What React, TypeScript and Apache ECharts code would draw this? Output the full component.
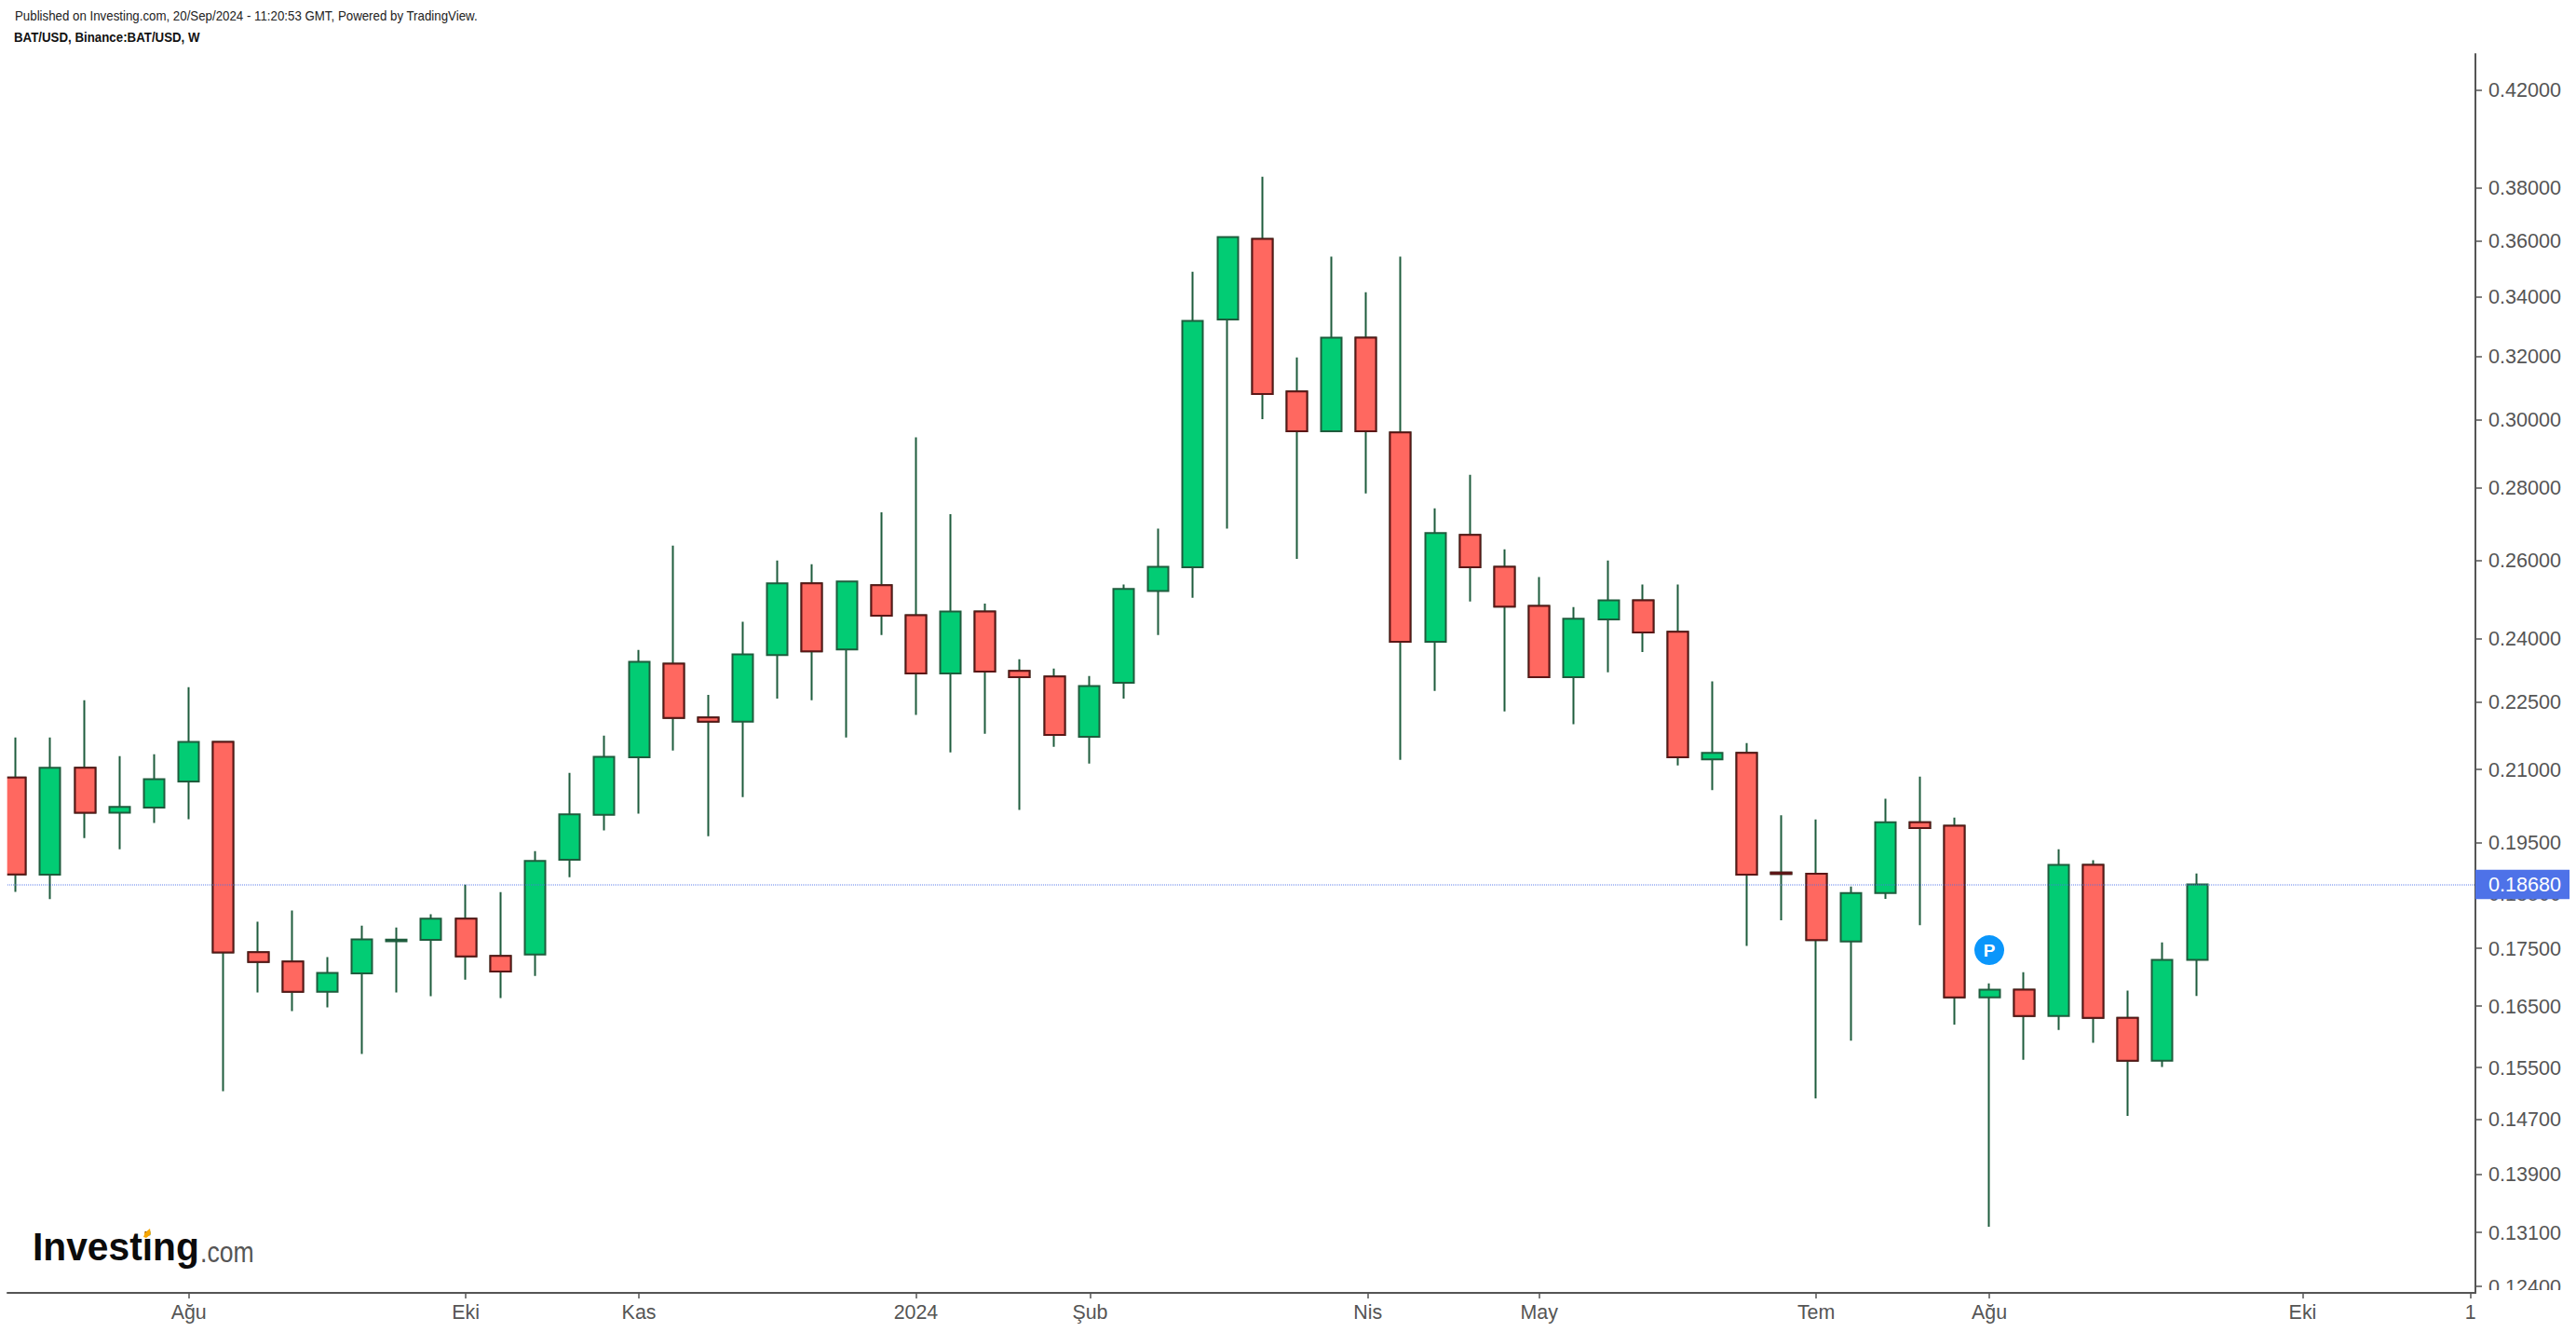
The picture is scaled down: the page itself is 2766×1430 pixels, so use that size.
import React, { useEffect, useRef } from "react";
import * as echarts from "echarts";

const opens = [
  0.20832, 0.18867, 0.21038, 0.20097, 0.20205, 0.20746, 0.21603, 0.17433, 0.17269, 0.16742, 0.1706, 0.17627, 0.17655, 0.18039, 0.17367, 0.17391,
  0.19158, 0.20053, 0.21266, 0.23398, 0.22146, 0.22053, 0.23604, 0.25392, 0.23739, 0.25343, 0.24582, 0.23164, 0.24674, 0.23222, 0.2309, 0.21716,
  0.22944, 0.25197, 0.25811, 0.33226, 0.36073, 0.30876, 0.29651, 0.32622, 0.29612, 0.23923, 0.26676, 0.25825, 0.24812, 0.23076, 0.24476, 0.24956,
  0.24168, 0.21218, 0.21364, 0.18909, 0.18885, 0.17626, 0.18515, 0.19903, 0.19831, 0.16649, 0.16779, 0.16336, 0.19055, 0.16305, 0.15609, 0.17298,
];
const closes = [
  0.18872, 0.21038, 0.20097, 0.20217, 0.20798, 0.21603, 0.17428, 0.17259, 0.16742, 0.1707, 0.17664, 0.17659, 0.18039, 0.17358, 0.17092, 0.19132,
  0.20065, 0.21278, 0.23442, 0.22134, 0.22053, 0.23618, 0.25392, 0.23693, 0.2544, 0.24568, 0.23164, 0.24674, 0.23208, 0.23076, 0.21758, 0.2287,
  0.25247, 0.25825, 0.33181, 0.36141, 0.308, 0.29651, 0.32622, 0.29651, 0.23923, 0.26727, 0.25811, 0.24798, 0.23076, 0.2449, 0.24956, 0.24154,
  0.21266, 0.21364, 0.18867, 0.18881, 0.1765, 0.18515, 0.19903, 0.19783, 0.16649, 0.16779, 0.16336, 0.19055, 0.16305, 0.15609, 0.17298, 0.1868,
];
const lows = [
  0.18541, 0.18402, 0.19582, 0.19364, 0.19888, 0.19964, 0.15129, 0.16731, 0.16417, 0.1648, 0.15715, 0.16731, 0.16668, 0.16951, 0.16637, 0.17016,
  0.1882, 0.19736, 0.20078, 0.21412, 0.1962, 0.2042, 0.22579, 0.22537, 0.217, 0.24091, 0.22203, 0.21372, 0.21783, 0.20154, 0.21492, 0.21132,
  0.22579, 0.24091, 0.25021, 0.26846, 0.30021, 0.26035, 0.29651, 0.27831, 0.21212, 0.22755, 0.24924, 0.22286, 0.23076, 0.21994, 0.23193, 0.23677,
  0.21092, 0.20568, 0.17546, 0.18011, 0.15019, 0.1593, 0.18406, 0.17919, 0.16192, 0.13178, 0.15624, 0.16105, 0.15894, 0.14754, 0.15507, 0.16673,
];
const highs = [
  0.21701, 0.21701, 0.22537, 0.21292, 0.21332, 0.22841, 0.21603, 0.17982, 0.1819, 0.17346, 0.17913, 0.17878, 0.18121, 0.18674, 0.18536, 0.19327,
  0.20932, 0.21743, 0.23723, 0.2639, 0.22665, 0.24414, 0.25987, 0.2589, 0.2544, 0.27301, 0.29465, 0.2725, 0.24876, 0.23501, 0.23281, 0.23105,
  0.25362, 0.26846, 0.34884, 0.36141, 0.38435, 0.31971, 0.35425, 0.34167, 0.35425, 0.27407, 0.28363, 0.26288, 0.25553, 0.24782, 0.25987, 0.25362,
  0.25362, 0.22977, 0.21574, 0.20044, 0.1996, 0.18641, 0.20384, 0.2085, 0.19998, 0.16886, 0.17082, 0.1936, 0.19149, 0.16764, 0.1761, 0.18892,
];

const priceTicks = [
  0.42, 0.38, 0.36, 0.34, 0.32, 0.3, 0.28, 0.26, 0.24, 0.225, 0.21, 0.195, 0.185, 0.175, 0.165, 0.155, 0.147, 0.139, 0.131, 0.124,
];
const timeTickAt = [5, 13, 18, 26, 31.03, 39.05, 44, 52, 57, 66.05, 70.9];
const timeTickLabels = ["Ağu", "Eki", "Kas", "2024", "Şub", "Nis", "May", "Tem", "Ağu", "Eki", "1"];
const lastPrice = 0.1868;
const pMarkIndex = 57;
const pMarkPrice = 0.1747;
const publishedText = "Published on Investing.com, 20/Sep/2024 - 11:20:53 GMT, Powered by TradingView.";
const symbolText = "BAT/USD, Binance:BAT/USD, W";

const AXIS = "#555555";
const FONT = "'Liberation Sans', Arial, sans-serif";

export default function App() {
  const ref = useRef<HTMLDivElement>(null);
  useEffect(() => {
    const chart = echarts.init(ref.current!, null, { renderer: "svg" });
    const all = opens.map((o, i) => [i, o, closes[i], lows[i], highs[i]]);
    const redBodies = opens
      .map((o, i) => ({ o, c: closes[i], i }))
      .filter((d) => d.c < d.o)
      .map((d) => [d.i, d.o, d.c, d.c, d.o]);
    chart.setOption({
      animation: false,
      backgroundColor: "#ffffff",
      grid: { left: 8, right: 108, top: 58, bottom: 42, containLabel: false },
      xAxis: {
        type: "value",
        min: -0.237,
        max: 71.04,
        position: "bottom",
        splitLine: { show: false },
        axisLine: { show: true, onZero: false, lineStyle: { color: AXIS, width: 2 } },
        axisTick: { show: true, customValues: timeTickAt, length: 6, lineStyle: { color: AXIS, width: 1.5 } },
        axisLabel: {
          show: true,
          customValues: timeTickAt,
          margin: 10,
          color: AXIS,
          fontFamily: FONT,
          fontSize: 21.4,
          hideOverlap: false,
          showMinLabel: true,
          showMaxLabel: true,
          formatter: (v: number) => timeTickLabels[timeTickAt.indexOf(v)] ?? "",
        },
      },
      yAxis: {
        type: "log",
        logBase: 10,
        min: 0.12318,
        max: 0.43557,
        position: "right",
        splitLine: { show: false },
        minorTick: { show: false },
        axisLine: { show: true, onZero: false, lineStyle: { color: AXIS, width: 2 } },
        axisTick: { show: true, customValues: priceTicks, length: 7, lineStyle: { color: AXIS, width: 1.5 } },
        axisLabel: {
          show: true,
          customValues: priceTicks,
          margin: 14,
          color: AXIS,
          fontFamily: FONT,
          fontSize: 21.6,
          hideOverlap: false,
          showMinLabel: true,
          showMaxLabel: true,
          formatter: (v: number) => Number(v).toFixed(5),
        },
      },
      series: [
        {
          name: "BAT/USD",
          type: "candlestick",
          clip: true,
          barWidth: 22.5,
          encode: { x: 0, y: [1, 2, 3, 4] },
          data: all,
          itemStyle: {
            color: "#02cc74",
            color0: "#ff6860",
            borderColor: "#1e5c3d",
            borderColor0: "#1e5c3d",
            borderWidth: 2,
          },
        },
        {
          name: "Down bodies",
          type: "candlestick",
          clip: true,
          barWidth: 22.5,
          encode: { x: 0, y: [1, 2, 3, 4] },
          data: redBodies,
          itemStyle: {
            color: "#02cc74",
            color0: "#ff6860",
            borderColor: "#5c1616",
            borderColor0: "#5c1616",
            borderWidth: 2,
          },
          markLine: {
            silent: true,
            symbol: "none",
            animation: false,
            precision: 5,
            data: [{ yAxis: lastPrice }],
            lineStyle: { color: "rgba(78,114,232,0.45)", width: 2, type: [1, 1] },
            label: {
              show: true,
              position: "end",
              distance: 0,
              formatter: lastPrice.toFixed(5),
              backgroundColor: "#4e72e8",
              color: "#ffffff",
              fontFamily: FONT,
              fontSize: 21.6,
              lineHeight: 22,
              padding: [5, 9, 4.5, 14],
            },
          },
          markPoint: {
            silent: true,
            animation: false,
            symbol: "circle",
            symbolSize: 32,
            data: [{ coord: [pMarkIndex, pMarkPrice] }],
            itemStyle: { color: "#0a96fb" },
            label: {
              show: true,
              position: "inside",
              formatter: "P",
              color: "#ffffff",
              fontFamily: FONT,
              fontWeight: "bold",
              fontSize: 19,
            },
          },
        },
      ],
      graphic: [
        {
          type: "rect",
          z: 50,
          shape: { x: 0, y: 58, width: 7.7, height: 1328 },
          style: { fill: "#ffffff" },
        },
        {
          type: "rect",
          z: 50,
          shape: { x: 2660, y: 1385, width: 106, height: 45 },
          style: { fill: "#ffffff" },
        },
        {
          type: "text",
          z: 60,
          x: 16,
          y: 17,
          scaleX: 0.95,
          style: { text: publishedText, fill: "#222222", font: "14px " + FONT, verticalAlign: "middle" },
        },
        {
          type: "text",
          z: 60,
          x: 15,
          y: 40,
          scaleX: 0.95,
          style: { text: symbolText, fill: "#111111", font: "bold 14px " + FONT, verticalAlign: "middle" },
        },
        {
          type: "text",
          z: 60,
          x: 35,
          y: 1339,
          scaleX: 0.97,
          style: { text: "Investing", fill: "#0b0b0b", font: "bold 42px " + FONT, verticalAlign: "middle" },
        },
        {
          type: "text",
          z: 60,
          x: 215,
          y: 1344,
          scaleX: 0.83,
          style: { text: ".com", fill: "#555555", font: "32px " + FONT, verticalAlign: "middle" },
        },
        {
          type: "polygon",
          z: 61,
          shape: { points: [[161, 1319], [162, 1325], [157, 1329], [154, 1328], [156, 1323]] },
          style: { fill: "#f7a600" },
        },
      ],
    });
    return () => chart.dispose();
  }, []);
  return (
    <div
      ref={ref}
      style={{ position: "absolute", left: 0, top: 0, width: 2766, height: 1430, overflow: "hidden", background: "#fff" }}
    />
  );
}
